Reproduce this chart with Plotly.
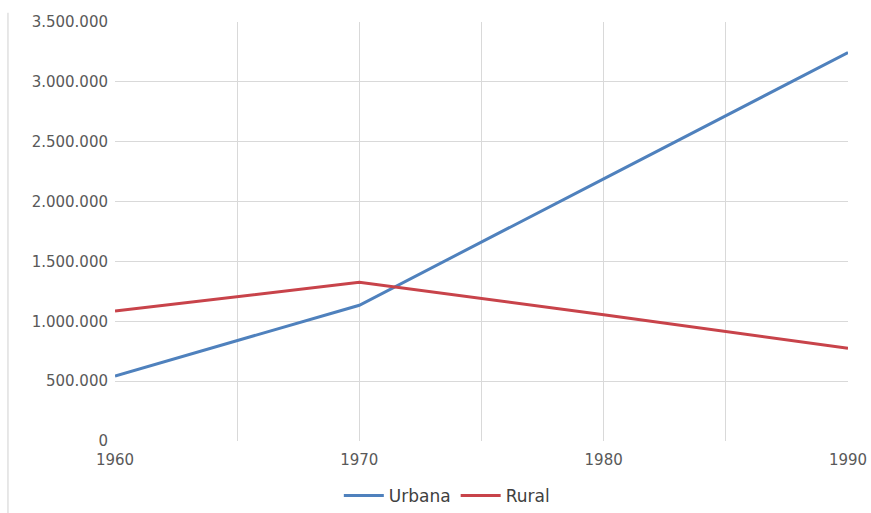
import plotly.graph_objects as go

years = [1960, 1970, 1980, 1990]
urbana = [543000, 1134000, 2190000, 3245000]
rural = [1086000, 1326000, 1055000, 774000]

x_tickvals = [1960, 1965, 1970, 1975, 1980, 1985, 1990]
x_ticktext = ["1960", "", "1970", "", "1980", "", "1990"]
y_tickvals = [0, 500000, 1000000, 1500000, 2000000, 2500000, 3000000, 3500000]
y_ticktext = ["0", "500.000", "1.000.000", "1.500.000", "2.000.000", "2.500.000", "3.000.000", "3.500.000"]

fig = go.Figure()
fig.add_trace(go.Scatter(x=years, y=urbana, mode="lines", name="Urbana",
                         line=dict(color="#4F81BD", width=3)))
fig.add_trace(go.Scatter(x=years, y=rural, mode="lines", name="Rural",
                         line=dict(color="#C8434A", width=3)))

font_family = "DejaVu Sans, Verdana, sans-serif"
fig.update_layout(
    width=871, height=513,
    margin=dict(l=115, r=23, t=22, b=72),
    paper_bgcolor="white", plot_bgcolor="white",
    font=dict(family=font_family, size=16, color="#595959"),
    showlegend=True,
    legend=dict(orientation="h", xref="container", x=0.513, xanchor="center",
                yref="container", y=0.033, yanchor="middle",
                font=dict(size=17, color="#404040"), itemwidth=40),
    xaxis=dict(range=[1960, 1990], tickvals=x_tickvals, ticktext=x_ticktext,
               showgrid=True, gridcolor="#d9d9d9", gridwidth=1,
               zeroline=False, showline=False, ticks="", ticklabelstandoff=8,
               automargin=False,
               tickfont=dict(size=15, color="#595959")),
    yaxis=dict(range=[0, 3500000], tickvals=y_tickvals, ticktext=y_ticktext,
               showgrid=True, gridcolor="#d9d9d9", gridwidth=1,
               zeroline=False, showline=False, ticks="", ticklabelstandoff=6,
               automargin=False,
               tickfont=dict(size=15, color="#595959")),
    shapes=[
        dict(type="line", xref="paper", yref="paper",
             x0=-0.146, x1=-0.146, y0=1.022, y1=-0.3,
             line=dict(color="#d0d0d0", width=1)),
    ],
)

fig.write_html("out.html")
